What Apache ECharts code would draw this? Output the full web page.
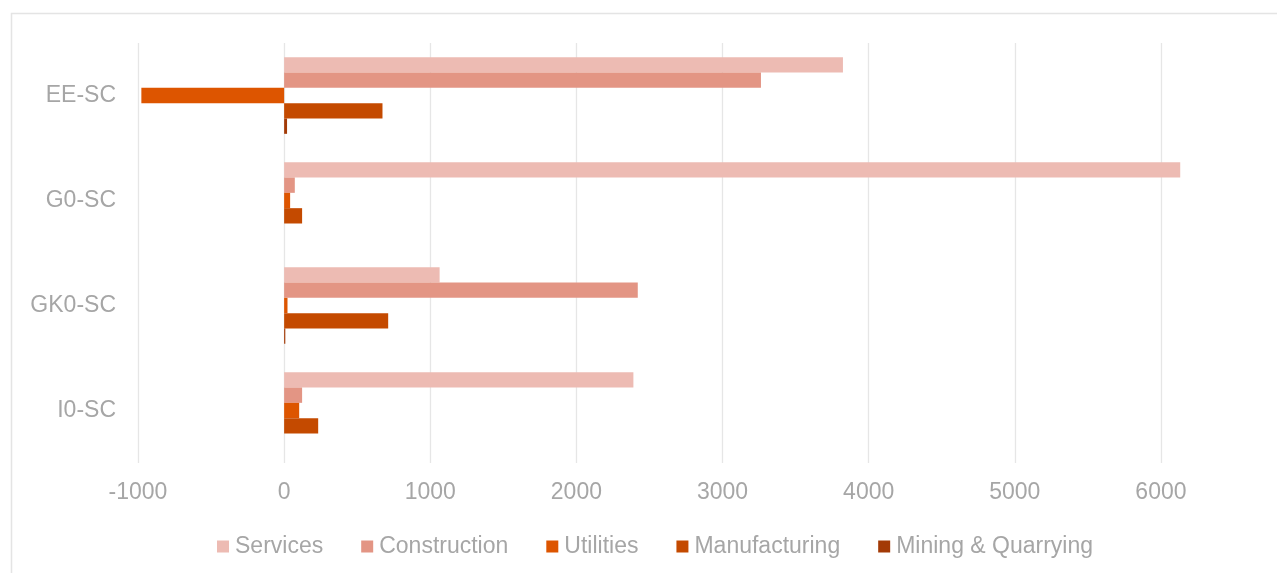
<!DOCTYPE html>
<html>
<head>
<meta charset="utf-8">
<title>Sector breakdown by region</title>
<script src="https://cdn.jsdelivr.net/npm/echarts@6/dist/echarts.min.js"></script>
<style>
  html, body { margin: 0; padding: 0; background: #ffffff; }
  #chart { width: 1277px; height: 573px; }
</style>
</head>
<body>
<div id="chart"></div>
<script>
// Regions (top to bottom) and sector values
const categories = ['EE-SC', 'G0-SC', 'GK0-SC', 'I0-SC'];
const services      = [3824, 6132, 1064, 2390];
const construction  = [3263, 73, 2420, 123];
const utilities     = [-977, 41, 23, 103];
const manufacturing = [673, 123, 712, 233];
const mining        = [20, 0, 8, 0];

const seriesNames  = ['Services', 'Construction', 'Utilities', 'Manufacturing', 'Mining & Quarrying'];
const seriesValues = [services, construction, utilities, manufacturing, mining];
const seriesColors = ['#EDBBB3', '#E39584', '#DD5500', '#C44A00', '#A33A06'];

const textGray = '#A6A6A6';
const fontFamily = '"Liberation Sans", Arial, sans-serif';

const chart = echarts.init(document.getElementById('chart'), null, { renderer: 'canvas' });

chart.setOption({
  animation: false,
  backgroundColor: '#ffffff',
  textStyle: { fontFamily: fontFamily },
  graphic: [{
    type: 'rect',
    left: 9, top: 11,
    shape: { width: 1320, height: 620 },
    style: { fill: 'none', stroke: '#E4E4E4', lineWidth: 1.5 },
    silent: true,
    z: -1
  }],
  grid: { left: 138, right: 43, top: 43, bottom: 110, containLabel: false },
  legend: {
    data: seriesNames,
    left: 212,
    top: 530,
    icon: 'rect',
    itemWidth: 12,
    itemHeight: 12,
    itemGap: 38,
    textStyle: { color: textGray, fontSize: 23, fontFamily: fontFamily, padding: [0, 0, 0, 1] }
  },
  xAxis: {
    type: 'value',
    min: -1000,
    max: 6500,
    interval: 1000,
    axisLine: { show: false },
    axisTick: { show: false },
    axisLabel: {
      color: textGray, fontSize: 23, fontFamily: fontFamily, margin: 18,
      showMaxLabel: false,
      formatter: (v) => String(v)
    },
    splitLine: { show: true, showMaxLine: false, lineStyle: { color: '#E6E6E6', width: 1.3 } }
  },
  yAxis: {
    type: 'category',
    data: categories,
    inverse: true,
    axisLine: { show: false },
    axisTick: { show: false },
    axisLabel: {
      color: textGray, fontSize: 23, fontFamily: fontFamily, margin: 22,
      padding: [4, 0, 0, 0]
    },
    splitLine: { show: false }
  },
  series: seriesNames.map((name, i) => ({
    name: name,
    type: 'bar',
    data: seriesValues[i],
    barGap: '0%',
    barCategoryGap: '27%',
    itemStyle: { color: seriesColors[i] }
  }))
});
</script>
</body>
</html>
